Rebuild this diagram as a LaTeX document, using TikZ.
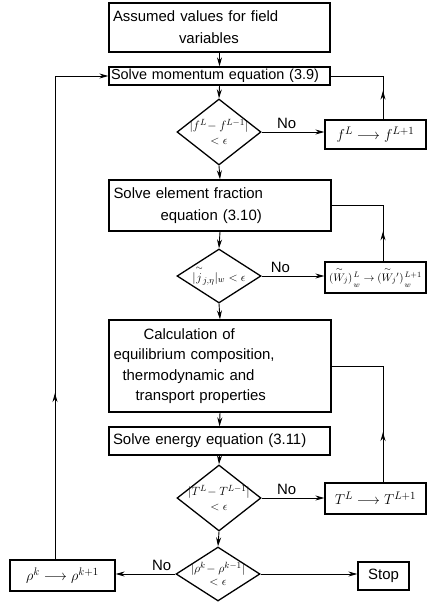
\documentclass[tikz,border=0pt]{standalone}
\usepackage{amsmath}
\usepackage{fontspec}
\setmainfont{Liberation Sans}
\usetikzlibrary{shapes.geometric,arrows.meta,decorations.markings}
\newcommand{\lowsub}[1]{\lower4pt\hbox{$\scriptstyle #1$}}
\begin{document}
\begin{tikzpicture}[x=1bp,y=-1bp,
  every node/.style={font=\fontsize{15}{22}\selectfont},
  box/.style={draw,line width=1.3pt,inner sep=0pt},
  lbox/.style={box,text width=213bp,align=left,inner xsep=4bp},
  dia/.style={draw,diamond,line width=1.3pt,inner sep=0pt,minimum width=84bp},
  dtext/.style={font=\fontsize{12.5}{14}\selectfont,align=center,inner sep=0pt},
  conn/.style={line width=0.9pt},
  tip/.style={-{Stealth[length=9bp,width=5bp]}},
  midarrow/.style={postaction={decorate},decoration={markings,
     mark=at position #1 with {\arrow{Stealth[length=9bp,width=5bp]}}}}]
\useasboundingbox (0,0) rectangle (428,603);

% main column
\node[lbox,minimum width=221bp,minimum height=49bp] (assume) at (219.5,27.5)
  {Assumed values for field\\\hspace*{66bp}variables};
\node[lbox,minimum width=221bp,minimum height=18bp,inner ysep=0pt,inner xsep=2bp,text width=217bp,
  font=\fontsize{14.5}{18}\selectfont] (mom) at (219.5,76)
  {Solve momentum equation (3.9)};
\node[dia,minimum height=66bp,
  label={[dtext]center:$|f^{L}\!-f^{L-1}|$\\[1pt]$<\epsilon$}] (d1) at (219,132) {};
\node[lbox,minimum width=222bp,minimum height=51bp] (elem) at (220,205.5)
  {Solve element fraction\\\hspace*{47bp}equation (3.10)};
\node[dia,minimum height=54bp,
  label={[dtext]center:$|\overset{\sim}{j}_{j,\eta}|_{w}<\epsilon$}] (d2) at (219,276) {};
\node[lbox,minimum width=222bp,minimum height=92bp,font=\fontsize{15}{20.5}\selectfont] (calc) at (220,366)
  {\hspace*{30bp}Calculation of\\equilibrium composition,\\\hspace*{9bp}thermodynamic and\\\hspace*{22bp}transport properties};
\node[lbox,minimum width=221bp,minimum height=28bp] (energy) at (219.5,441)
  {Solve energy equation (3.11)};
\node[dia,minimum height=66bp,
  label={[dtext]center:$|T^{L}\!-T^{L-1}|$\\[1pt]$<\epsilon$}] (d3) at (219,498) {};
\node[dia,minimum height=54bp,
  label={[dtext]center:$|\rho^{k}\!-\rho^{k-1}|$\\[-1pt]$<\epsilon$}] (d4) at (218,574) {};

% right boxes
\node[box,minimum width=101bp,minimum height=29bp] (fbox) at (375.5,134.5)
  {$f^{L}\longrightarrow f^{L+1}$};
\node[box,minimum width=101bp,minimum height=31bp,font=\fontsize{11}{13}\selectfont] (wbox) at (375.5,277.5)
  {$(\overset{\sim}{W}_{\!j})\mkern2mu{}^{L}_{\lowsub{w}}\rightarrow(\overset{\sim}{W}_{\!j}{}')\mkern2mu{}^{L+1}_{\lowsub{w}}$};
\node[box,minimum width=101bp,minimum height=31bp] (tbox) at (375.5,498.5)
  {$T^{L}\longrightarrow T^{L+1}$};
\node[box,minimum width=51bp,minimum height=28bp] (stop) at (383.5,576) {Stop};
\node[box,minimum width=105bp,minimum height=31bp] (rho) at (62.5,575.5)
  {$\rho^{k}\longrightarrow\rho^{k+1}$};

\coordinate (rx) at (383,0);
\coordinate (lx) at (55,0);

% main column connectors
\draw[conn,tip] (assume.south) -- (mom.north);
\draw[conn,tip] (mom.south) -- (d1.north);
\draw[conn,tip] (d1.south) -- (elem.north);
\draw[conn,tip] (elem.south) -- (d2.north);
\draw[conn,tip] (d2.south) -- (calc.north);
\draw[conn,tip] (calc.south) -- (energy.north);
\draw[conn,tip] (energy.south) -- (d3.north);
\draw[conn,tip] (d3.south) -- (d4.north);

% No branches
\draw[conn,tip] (d1.east) -- (d1.east -| fbox.west) node[above,pos=0.4] {No};
\draw[conn,tip] (d2.east) -- (d2.east -| wbox.west) node[above,pos=0.3] {No};
\draw[conn,tip] (d3.east) -- (d3.east -| tbox.west) node[above,pos=0.4] {No};
\draw[conn,tip] (d4.west) -- (d4.west -| rho.east) node[above,pos=0.23] {No};
\draw[conn,tip] (d4.east) -- (d4.east -| stop.west);

% return loops
\draw[conn,midarrow=0.3] (fbox.north -| rx) -- (rx |- mom.east) -- (mom.east);
\draw[conn,midarrow=0.28] (wbox.north -| rx) -- (rx |- elem.east) -- (elem.east);
\draw[conn,midarrow=0.3] (tbox.north -| rx) -- (rx |- calc.east) -- (calc.east);
\draw[conn,tip,midarrow=0.31] (rho.north -| lx) -- (lx |- mom.west) -- (mom.west);
\end{tikzpicture}
\end{document}
